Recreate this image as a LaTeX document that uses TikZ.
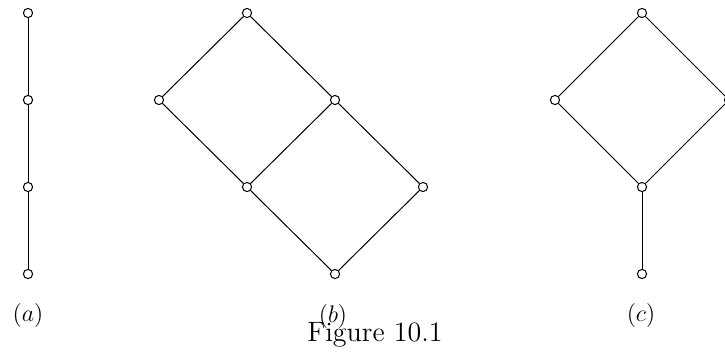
\documentclass[tikz,border=0pt]{standalone}
\usepackage{fontspec}
\usepackage{amsmath}
\usetikzlibrary{calc}

\begin{document}
\begin{tikzpicture}[x=0.5pt, y=-0.5pt,
                    vertex/.style={circle, draw=black, fill=white, line width=0.5pt, minimum size=4.6pt, inner sep=0pt},
                    link/.style={line width=0.5pt, black},
                    tag/.style={font=\large, inner sep=0pt}]

    \useasboundingbox (0,0) rectangle (725,354);

    % (a) chain
    \node[vertex] (a0) at (28,13)  {};
    \node[vertex] (a1) at (28,100) {};
    \node[vertex] (a2) at (28,187) {};
    \node[vertex] (a3) at (28,274) {};

    \draw[link] (a0) -- (a1);
    \draw[link] (a1) -- (a2);
    \draw[link] (a2) -- (a3);

    % (b) two squares
    \node[vertex] (b0) at (247,13)  {};
    \node[vertex] (b1) at (159,100) {};
    \node[vertex] (b2) at (335,100) {};
    \node[vertex] (b3) at (247,187) {};
    \node[vertex] (b4) at (423,187) {};
    \node[vertex] (b5) at (335,274) {};

    \draw[link] (b0) -- (b1);
    \draw[link] (b0) -- (b2);
    \draw[link] (b1) -- (b3);
    \draw[link] (b2) -- (b3);
    \draw[link] (b2) -- (b4);
    \draw[link] (b3) -- (b5);
    \draw[link] (b4) -- (b5);

    % (c) square with tail
    \node[vertex] (c0) at (642,13)  {};
    \node[vertex] (c1) at (555,100) {};
    \node[vertex] (c2) at (729,100) {};
    \node[vertex] (c3) at (642,187) {};
    \node[vertex] (c4) at (642,274) {};

    \draw[link] (c0) -- (c1);
    \draw[link] (c0) -- (c2);
    \draw[link] (c1) -- (c3);
    \draw[link] (c2) -- (c3);
    \draw[link] (c3) -- (c4);

    % labels
    \node[tag] (la) at (28,315)  {$(a)$};
    \node[tag] (lb) at (333,316) {$(b)$};
    \node[tag] (lc) at (641,315) {$(c)$};
    \node[inner sep=0pt, font=\fontsize{14}{16}\selectfont\addfontfeature{LetterSpace=11}] (cap) at (375,335) {Figure 10.1};
\end{tikzpicture}
\end{document}
